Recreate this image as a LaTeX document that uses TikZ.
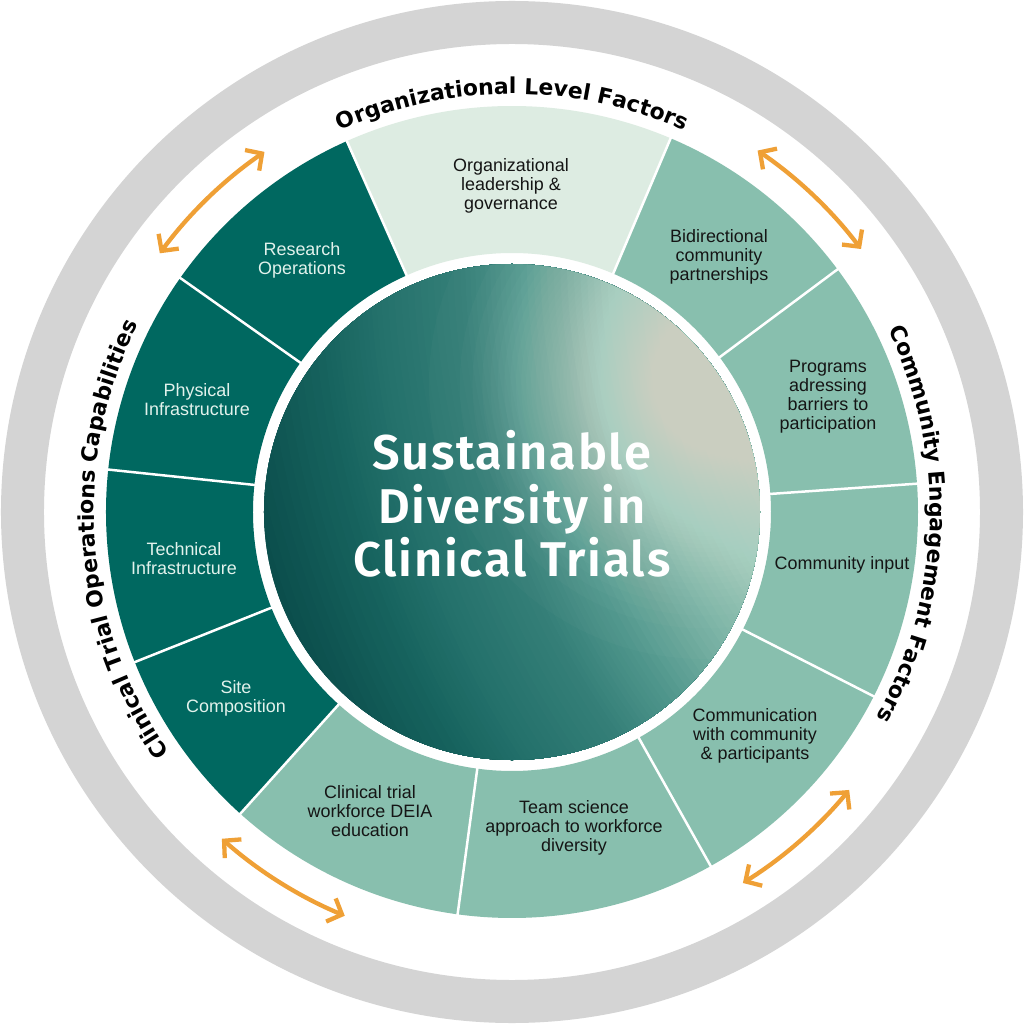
\documentclass[tikz,border=0pt]{standalone}
\usepackage{fontspec}
\usetikzlibrary{arrows.meta,decorations.text}
\setmainfont{Liberation Sans}
\newfontfamily\arcfont{DejaVu Sans}
\IfFontExistsTF{Fira Sans SemiBold}{\newfontfamily\titlefont{Fira Sans SemiBold}[LetterSpace=3.5]}{\newfontfamily\titlefontbase{Fira Sans}[LetterSpace=3.5]\def\titlefont{\titlefontbase\bfseries}}
\definecolor{ringgray}{HTML}{D4D4D4}
\definecolor{darkteal}{HTML}{006860}
\definecolor{lightteal}{HTML}{88BFAE}
\definecolor{paleteal}{HTML}{DDECE2}
\definecolor{orangec}{HTML}{EFA036}
\definecolor{labellight}{HTML}{E2F2EC}
\definecolor{labeldark}{HTML}{151515}
\definecolor{hl}{HTML}{F4F8EA}
\definecolor{b0}{HTML}{0B4E4C}
\definecolor{b1}{HTML}{17645F}
\definecolor{b2}{HTML}{25726C}
\definecolor{b3}{HTML}{357F78}
\definecolor{b4}{HTML}{4E958B}
\definecolor{b5}{HTML}{7AB3A5}
\definecolor{b6}{HTML}{9CC8B8}
\definecolor{b7}{HTML}{B0D3C4}
\newcommand\wseg[3]{\fill[#3] (#1:406bp) arc[start angle=#1, end angle=#2, radius=406bp] -- (#2:259bp) arc[start angle=#2, end angle=#1, radius=259bp] -- cycle;}
% gradient band: centre #1, from radius #4 (colour #5) down to radius #2 (colour #3)
\newcommand\gseg[5]{%
  \foreach \k in {0,...,11}{%
    \pgfmathsetmacro\rr{#4-(#4-#2)*\k/12}%
    \pgfmathsetmacro\pp{100*\k/12}%
    \fill[#3!\pp!#5] (#1) circle[radius=\rr bp];
  }}
\newcommand\arcstyle{\arcfont\bfseries\fontsize{22}{26}\selectfont}
\tikzset{
  seglabel/.style={align=center, inner sep=0pt, font=\fontsize{18}{19}\selectfont},
  darklabel/.style={seglabel, text=labellight},
  lightlabel/.style={seglabel, text=labeldark},
  divider/.style={draw=white, line width=2.5bp},
  orangearrow/.style={draw=orangec, line width=4.3bp,
    {Straight Barb[length=12bp,width=25bp]}-{Straight Barb[length=12bp,width=25bp]}},
  titletext/.style={align=center, text=white, inner sep=0pt, font=\titlefont\fontsize{49}{53.5}\selectfont}
}
\begin{document}
\begin{tikzpicture}[x=1bp,y=1bp]
\useasboundingbox (-512,-512) rectangle (512,512);
\fill[white] (-512,-512) rectangle (512,512);
% outer gray ring
\fill[ringgray, even odd rule] (0,0) circle[radius=511bp] (0,0) circle[radius=468bp];
% segments
\wseg{67}{114}{paleteal}
\wseg{36.7}{67}{lightteal}
\wseg{4}{36.7}{lightteal}
\wseg{-27}{4}{lightteal}
\wseg{-60.7}{-27}{lightteal}
\wseg{-97.7}{-60.7}{lightteal}
\wseg{-132}{-97.7}{lightteal}
\wseg{-158.3}{-132}{darkteal}
\wseg{-186}{-158.3}{darkteal}
\wseg{144.8}{174}{darkteal}
\wseg{114}{144.8}{darkteal}
\foreach \a in {114,67,36.7,4,-27,-60.7,-97.7,-132,-158.3,-186,144.8}
  \draw[divider] (\a:256bp) -- (\a:409bp);
% central disc with gradient
\coordinate (gfar) at (788,262);
\coordinate (gspot) at (192,128);
\begin{scope}
  \clip (0,0) circle[radius=248bp];
  \fill[b0] (0,0) circle[radius=248bp];
  \gseg{gfar}{980}{b1}{1080}{b0}
  \gseg{gfar}{920}{b2}{980}{b1}
  \gseg{gfar}{840}{b3}{920}{b2}
  \gseg{gfar}{780}{b4}{840}{b3}
  \gseg{gfar}{700}{b5}{780}{b4}
  \gseg{gfar}{620}{b6}{700}{b5}
  \gseg{gfar}{560}{b7}{620}{b6}
  \foreach \k in {0,...,79}{%
    \pgfmathsetmacro\rr{275*(1-sqrt(\k/80))}%
    \fill[hl, fill opacity=0.024] (gspot) circle[radius=\rr bp];
  }
\end{scope}
\node[titletext] (title) at (0,8) {Sustainable\\Diversity in\\Clinical Trials};
% segment labels
\node[lightlabel] (org) at (-1,326) {Organizational\\leadership \&\\governance};
\node[lightlabel] (bidir) at (207,255) {Bidirectional\\community\\partnerships};
\node[lightlabel] (prog) at (316,115) {Programs\\adressing\\barriers to\\participation};
\node[lightlabel] (cinput) at (330,-53) {Community input};
\node[lightlabel] (comm) at (243,-224) {Communication\\with community\\\& participants};
\node[lightlabel] (team) at (62,-316) {Team science\\approach to workforce\\diversity};
\node[lightlabel] (deia) at (-142,-299) {Clinical trial\\workforce DEIA\\education};
\node[darklabel] (site) at (-276,-186) {Site\\Composition};
\node[darklabel] (tech) at (-328,-47) {Technical\\Infrastructure};
\node[darklabel] (phys) at (-315,112) {Physical\\Infrastructure};
\node[darklabel] (research) at (-210,252) {Research\\Operations};
% curved group labels
\path[decorate, decoration={text along path, text align=center, text={|\arcstyle|Organizational Level Factors}}]
  (130:418bp) arc[start angle=130, end angle=50, radius=418bp];
\path[decorate, decoration={text along path, text align=center, text={|\arcstyle|Clinical Trial Operations Capabilities}}]
  (229.2:418bp) arc[start angle=229.2, end angle=139.2, radius=418bp];
\path[decorate, decoration={text along path, text align=center, text={|\arcstyle|Community Engagement Factors}}]
  (38.2:418bp) arc[start angle=38.2, end angle=-41.8, radius=418bp];
% orange arrows
\coordinate (a1s) at (143.7:437bp);
\coordinate (a2s) at (37:437bp);
\coordinate (a3s) at (228.4:437bp);
\coordinate (a4s) at (-58.1:437bp);
\draw[orangearrow] (a1s) arc[start angle=143.7, end angle=124.5, radius=437bp];
\draw[orangearrow] (a2s) arc[start angle=37, end angle=55.8, radius=437bp];
\draw[orangearrow] (a3s) arc[start angle=228.4, end angle=247.5, radius=437bp];
\draw[orangearrow] (a4s) arc[start angle=-58.1, end angle=-39.5, radius=437bp];
\end{tikzpicture}
\end{document}
